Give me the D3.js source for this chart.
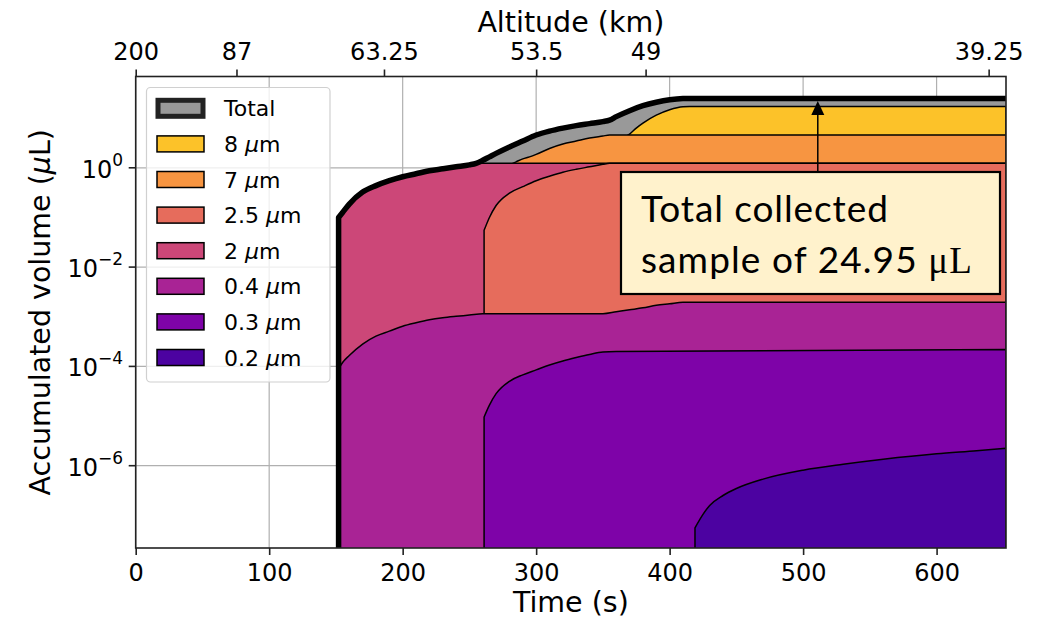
<!DOCTYPE html>
<html>
<head>
<meta charset="utf-8">
<script src="https://cdn.jsdelivr.net/npm/d3@7"></script>
<style>
body { margin: 0; background: #fff; }
svg { font-family: "DejaVu Sans", sans-serif; }
text { fill: #000; }
</style>
</head>
<body>
<div id="chart"></div>
<script>
const width = 1049;
const height = 619;

// accumulated volume (µL) against time (s), one pair of arrays per size bin
const totalTime = [152, 155, 160, 170, 180, 190, 200, 210, 220, 230, 240, 250, 255, 260, 265, 270, 280, 290, 300, 310, 320, 330, 340, 350, 355, 360, 370, 380, 390, 400, 410, 415, 652];
const totalVol = [0.100, 0.126, 0.186, 0.324, 0.437, 0.550, 0.661, 0.759, 0.871, 0.955, 1.047, 1.148, 1.230, 1.413, 1.660, 1.950, 2.630, 3.467, 4.571, 5.495, 6.310, 7.079, 7.762, 8.511, 9.120, 10.72, 14.13, 17.78, 20.89, 23.44, 24.83, 24.95, 24.95];

const time8 = [365, 370, 375, 380, 390, 400, 410, 415, 652];
const vol8 = [3.981, 4.786, 6.310, 7.943, 11.48, 14.79, 16.98, 17.18, 17.18];

const time7 = [280, 285, 290, 295, 300, 310, 320, 330, 340, 350, 355, 652];
const vol7 = [1.148, 1.318, 1.514, 1.660, 1.862, 2.455, 3.020, 3.467, 3.981, 4.365, 4.571, 4.571];

const time2 = [152, 155, 160, 170, 180, 190, 200, 210, 220, 230, 240, 250, 255, 652];
const vol2 = [0.100, 0.126, 0.186, 0.324, 0.437, 0.550, 0.661, 0.759, 0.871, 0.955, 1.047, 1.148, 1.230, 1.230];

const time25 = [261, 265, 270, 280, 290, 300, 310, 320, 330, 340, 350, 355, 652];
const vol25 = [0.0550, 0.100, 0.174, 0.309, 0.417, 0.550, 0.676, 0.813, 0.933, 1.047, 1.175, 1.230, 1.230];

const time04 = [152, 155, 160, 170, 180, 190, 200, 210, 220, 230, 240, 250, 260, 350, 360, 370, 380, 390, 400, 410, 652];
const vol04 = [8.91e-5, 1.20e-4, 1.66e-4, 2.82e-4, 4.07e-4, 5.13e-4, 6.46e-4, 7.59e-4, 8.71e-4, 9.55e-4, 1.02e-3, 1.08e-3, 1.15e-3, 1.15e-3, 1.26e-3, 1.38e-3, 1.51e-3, 1.70e-3, 1.82e-3, 1.95e-3, 1.95e-3];

const time03 = [261, 265, 270, 280, 290, 300, 310, 320, 330, 340, 350, 360, 652];
const vol03 = [9.55e-6, 1.66e-5, 2.82e-5, 5.01e-5, 6.76e-5, 8.51e-5, 1.07e-4, 1.29e-4, 1.51e-4, 1.74e-4, 1.95e-4, 2.00e-4, 2.19e-4];

const time02 = [419, 425, 430, 440, 450, 470, 500, 530, 560, 600, 630, 652];
const vol02 = [5.62e-8, 1.05e-7, 1.58e-7, 2.51e-7, 3.47e-7, 5.37e-7, 8.13e-7, 1.07e-6, 1.35e-6, 1.74e-6, 2.00e-6, 2.24e-6];

const timeTicks = [0, 100, 200, 300, 400, 500, 600];
const volTicks = [1e-6, 1e-4, 1e-2, 1];
const altTickTime = [0, 75.5, 186, 300, 382, 639];
const altTickLabel = ["200", "87", "63.25", "53.5", "49", "39.25"];

// drawing order: back to front
const bins = [
    { label: "8", t: time8, v: vol8, color: "#fcc229" },
    { label: "7", t: time7, v: vol7, color: "#f79541" },
    { label: "2", t: time2, v: vol2, color: "#cc4778" },
    { label: "2.5", t: time25, v: vol25, color: "#e66c5c" },
    { label: "0.4", t: time04, v: vol04, color: "#a92395" },
    { label: "0.3", t: time03, v: vol03, color: "#7e03a8" },
    { label: "0.2", t: time02, v: vol02, color: "#4c02a1" }
];
const legendOrder = ["8", "7", "2.5", "2", "0.4", "0.3", "0.2"];

const pLeft = 135.7, pRight = 1006, pTop = 76.5, pBottom = 548;

const svg = d3.select("#chart").append("svg")
    .attr("width", width)
    .attr("height", height);

const x = d3.scaleLinear().domain([0, 652]).range([pLeft, pRight]);
const y = d3.scaleLog().domain([2.2e-8, 69]).range([pBottom, pTop]);

svg.append("clipPath").attr("id", "plot")
    .append("rect")
    .attr("x", pLeft).attr("y", pTop)
    .attr("width", pRight - pLeft).attr("height", pBottom - pTop);

// grid
const grid = svg.append("g").attr("stroke", "#b0b0b0").attr("stroke-width", 1.2);
grid.selectAll(".gx").data(timeTicks).enter().append("line")
    .attr("x1", d => x(d)).attr("x2", d => x(d))
    .attr("y1", pTop).attr("y2", pBottom);
grid.selectAll(".gy").data(volTicks).enter().append("line")
    .attr("x1", pLeft).attr("x2", pRight)
    .attr("y1", d => y(d)).attr("y2", d => y(d));

const plot = svg.append("g").attr("clip-path", "url(#plot)");

const toPoints = (ts, vs) => ts.map((t, i) => ({ t: t, v: vs[i] }));

const area = d3.area()
    .x(d => x(d.t))
    .y0(pBottom + 30)
    .y1(d => y(d.v))
    .curve(d3.curveMonotoneX);

const totalPts = toPoints(totalTime, totalVol);
plot.append("path")
    .attr("d", area(totalPts))
    .attr("fill", "#999999")
    .attr("stroke", "none");

bins.forEach(b => {
    plot.append("path")
        .attr("d", area(toPoints(b.t, b.v)))
        .attr("fill", b.color)
        .attr("stroke", "#000")
        .attr("stroke-width", 1.5)
        .attr("stroke-linejoin", "round");
});

// total outline, with its vertical rise at the start
const line = d3.line()
    .x(d => x(d.t))
    .y(d => y(d.v))
    .curve(d3.curveMonotoneX);
const totalD = line(totalPts).replace(/^M/, `M${x(totalTime[0])},${pBottom + 30}L`);
plot.append("path")
    .attr("d", totalD)
    .attr("fill", "none")
    .attr("stroke", "#000")
    .attr("stroke-width", 5.5)
    .attr("stroke-linejoin", "round");

// spines
svg.append("rect")
    .attr("x", pLeft).attr("y", pTop)
    .attr("width", pRight - pLeft).attr("height", pBottom - pTop)
    .attr("fill", "none")
    .attr("stroke", "#222")
    .attr("stroke-width", 1.6);

// bottom axis
const xAxis = svg.append("g")
    .attr("transform", `translate(0,${pBottom})`)
    .call(d3.axisBottom(x).tickValues(timeTicks).tickSize(7).tickPadding(9).tickFormat(d3.format("d")));
xAxis.select(".domain").remove();
xAxis.selectAll("line").attr("stroke", "#222").attr("stroke-width", 1.6);
xAxis.selectAll("text").style("font-size", "24px").style("font-family", "DejaVu Sans");

// top axis (altitude)
const altAxis = svg.append("g")
    .attr("transform", `translate(0,${pTop})`)
    .call(d3.axisTop(x).tickValues(altTickTime).tickSize(7).tickPadding(10).tickFormat((d, i) => altTickLabel[i]));
altAxis.select(".domain").remove();
altAxis.selectAll("line").attr("stroke", "#222").attr("stroke-width", 1.6);
altAxis.selectAll("text").style("font-size", "24px").style("font-family", "DejaVu Sans");

// y axis
const yAxis = svg.append("g");
yAxis.selectAll("line").data(volTicks).enter().append("line")
    .attr("x1", pLeft - 7).attr("x2", pLeft)
    .attr("y1", d => y(d)).attr("y2", d => y(d))
    .attr("stroke", "#222").attr("stroke-width", 1.6);
const yLab = yAxis.selectAll("text").data(volTicks).enter().append("text")
    .attr("x", 123)
    .attr("y", d => y(d) + 10)
    .attr("text-anchor", "end")
    .style("font-size", "24px");
yLab.append("tspan").text("10");
yLab.append("tspan")
    .attr("dy", -12)
    .style("font-size", "17px")
    .text(d => { const e = Math.round(Math.log10(d)); return e < 0 ? "\u2212" + (-e) : String(e); });

// axis titles
svg.append("text")
    .attr("x", (pLeft + pRight) / 2).attr("y", 612)
    .attr("text-anchor", "middle")
    .style("font-size", "28.5px")
    .text("Time (s)");
svg.append("text")
    .attr("x", (pLeft + pRight) / 2).attr("y", 32)
    .attr("text-anchor", "middle")
    .style("font-size", "28.5px")
    .text("Altitude (km)");
const yTitle = svg.append("text")
    .attr("transform", `translate(50,${(pTop + pBottom) / 2}) rotate(-90)`)
    .attr("text-anchor", "middle")
    .style("font-size", "28.5px");
yTitle.append("tspan").text("Accumulated volume (");
yTitle.append("tspan").style("font-style", "italic").text("\u03bc");
yTitle.append("tspan").text("L)");

// legend
const legend = svg.append("g");
legend.append("rect")
    .attr("x", 146.5).attr("y", 87.5)
    .attr("width", 183.5).attr("height", 294.5)
    .attr("rx", 4)
    .attr("fill", "#fff").attr("fill-opacity", 0.8)
    .attr("stroke", "#d0d0d0").attr("stroke-width", 1.2);

const rowY = i => 108.3 + i * 35.6;
legend.append("rect")
    .attr("x", 158).attr("y", rowY(0) - 8)
    .attr("width", 45).attr("height", 16)
    .attr("fill", "#999999")
    .attr("stroke", "#222").attr("stroke-width", 5);
legend.append("text")
    .attr("x", 224).attr("y", rowY(0) + 8)
    .style("font-size", "22px")
    .text("Total");

legendOrder.forEach((lab, k) => {
    const b = bins.find(d => d.label === lab);
    const i = k + 1;
    legend.append("rect")
        .attr("x", 157).attr("y", rowY(i) - 8)
        .attr("width", 47).attr("height", 16)
        .attr("fill", b.color)
        .attr("stroke", "#000").attr("stroke-width", 1.5);
    const t = legend.append("text")
        .attr("x", 224).attr("y", rowY(i) + 8)
        .style("font-size", "22px");
    t.append("tspan").text(lab + " ");
    t.append("tspan").style("font-style", "italic").text("\u03bc");
    t.append("tspan").text("m");
});

// annotation
const ax = x(511);
svg.append("line")
    .attr("x1", ax).attr("x2", ax)
    .attr("y1", 172).attr("y2", 112)
    .attr("stroke", "#000").attr("stroke-width", 1.5);
svg.append("path")
    .attr("d", `M${ax},101 L${ax - 6.5},115 L${ax + 6.5},115 Z`)
    .attr("fill", "#000");

svg.append("rect")
    .attr("x", 621).attr("y", 172)
    .attr("width", 379).attr("height", 122)
    .attr("fill", "#fff2cc")
    .attr("stroke", "#000").attr("stroke-width", 2.2);
svg.append("text")
    .attr("x", 641).attr("y", 222)
    .style("font-family", "Lato")
    .style("font-size", "37px")
    .style("letter-spacing", "0.9px")
    .text("Total collected");
const note2 = svg.append("text")
    .attr("x", 641).attr("y", 273)
    .style("font-family", "Lato")
    .style("font-size", "37px")
    .style("letter-spacing", "1.1px");
note2.append("tspan").text("sample of 24.95 ");
note2.append("tspan").style("font-family", "Liberation Serif").text("\u03bcL");
</script>
</body>
</html>
